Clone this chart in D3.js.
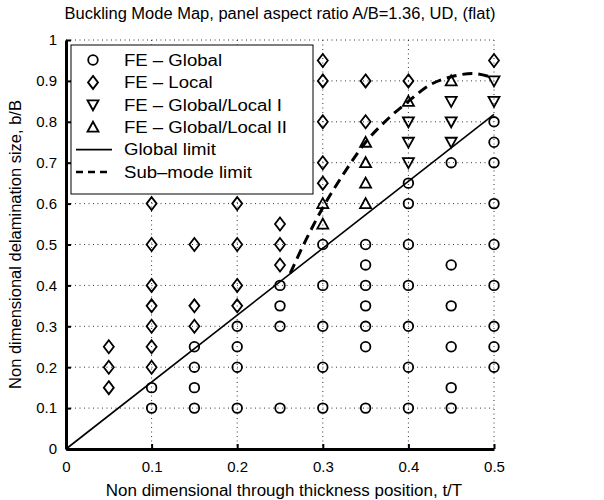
<!DOCTYPE html>
<html>
<head>
<meta charset="utf-8">
<script src="https://cdn.jsdelivr.net/npm/d3@7"></script>
<style>
  body { margin: 0; background: #fff; }
  text { font-family: "Liberation Sans", Arial, Helvetica, sans-serif; fill: #000; }
</style>
</head>
<body>
<svg id="chart" width="604" height="500"></svg>
<script>
// FE results per buckling mode, as [t/T, b/B] pairs
const feGlobal = [
  [0.10, 0.10], [0.10, 0.15],
  [0.15, 0.10], [0.15, 0.15], [0.15, 0.20], [0.15, 0.25],
  [0.20, 0.10], [0.20, 0.20], [0.20, 0.25], [0.20, 0.30],
  [0.25, 0.10], [0.25, 0.30], [0.25, 0.35], [0.25, 0.40],
  [0.30, 0.10], [0.30, 0.20], [0.30, 0.30], [0.30, 0.40], [0.30, 0.50],
  [0.35, 0.10], [0.35, 0.25], [0.35, 0.30], [0.35, 0.35], [0.35, 0.40], [0.35, 0.45], [0.35, 0.50],
  [0.40, 0.10], [0.40, 0.20], [0.40, 0.30], [0.40, 0.40], [0.40, 0.50], [0.40, 0.60], [0.40, 0.65],
  [0.45, 0.10], [0.45, 0.15], [0.45, 0.25], [0.45, 0.35], [0.45, 0.45], [0.45, 0.70],
  [0.50, 0.20], [0.50, 0.25], [0.50, 0.30], [0.50, 0.40], [0.50, 0.50], [0.50, 0.60], [0.50, 0.70], [0.50, 0.75], [0.50, 0.80]
];
const feLocal = [
  [0.05, 0.15], [0.05, 0.20], [0.05, 0.25],
  [0.10, 0.20], [0.10, 0.25], [0.10, 0.30], [0.10, 0.35], [0.10, 0.40], [0.10, 0.50], [0.10, 0.60],
  [0.15, 0.30], [0.15, 0.35], [0.15, 0.50],
  [0.20, 0.35], [0.20, 0.40], [0.20, 0.50], [0.20, 0.60],
  [0.25, 0.45], [0.25, 0.50], [0.25, 0.55],
  [0.30, 0.65], [0.30, 0.70], [0.30, 0.80], [0.30, 0.90], [0.30, 0.95],
  [0.35, 0.80], [0.35, 0.90],
  [0.40, 0.90],
  [0.50, 0.95]
];
const feGlobalLocalI = [
  [0.40, 0.70], [0.40, 0.75], [0.40, 0.80],
  [0.45, 0.75], [0.45, 0.80], [0.45, 0.85],
  [0.50, 0.85], [0.50, 0.90]
];
const feGlobalLocalII = [
  [0.30, 0.55], [0.30, 0.60],
  [0.35, 0.60], [0.35, 0.65], [0.35, 0.70], [0.35, 0.75],
  [0.40, 0.85],
  [0.45, 0.90]
];
// Limit curves
const globalLimit = [[0, 0], [0.5, 0.818]];
const subModeLimit = [
  [0.262, 0.43], [0.28, 0.51], [0.30, 0.59], [0.325, 0.675], [0.35, 0.75],
  [0.375, 0.805], [0.40, 0.85], [0.425, 0.89], [0.45, 0.91], [0.475, 0.918], [0.50, 0.907]
];
// Axis ticks and labels
const xTicks = [0, 0.1, 0.2, 0.3, 0.4, 0.5];
const yTicks = [0, 0.1, 0.2, 0.3, 0.4, 0.5, 0.6, 0.7, 0.8, 0.9, 1];
const legendLabels = ["FE \u2013 Global", "FE \u2013 Local", "FE \u2013 Global/Local I",
                      "FE \u2013 Global/Local II", "Global limit", "Sub\u2013mode limit"];
const titleText = "Buckling Mode Map, panel aspect ratio A/B=1.36, UD, (flat)";
const xLabel = "Non dimensional through thickness position, t/T";
const yLabel = "Non dimensional delamination size, b/B";

const svg = d3.select("#chart");
const L = 66, R = 494, T = 40, B = 449;
const x = d3.scaleLinear().domain([0, 0.5]).range([L, R]);
const y = d3.scaleLinear().domain([0, 1]).range([B, T]);

// Marker shapes (centered at 0,0)
const shapes = {
  circle: "M4.8,0A4.8,4.8 0 1,1 -4.8,0A4.8,4.8 0 1,1 4.8,0Z",
  diamond: "M0,-6.5L5,0L0,6.5L-5,0Z",
  triDown: "M-5.5,-4.5L5.5,-4.5L0,5.5Z",
  triUp: "M-5.5,4.5L5.5,4.5L0,-5.5Z"
};

// Dotted grid
const grid = svg.append("g");
grid.selectAll("line.h").data(yTicks.filter(d => d > 0)).join("line")
  .attr("x1", L).attr("x2", R)
  .attr("y1", d => y(d)).attr("y2", d => y(d))
  .attr("stroke", "#000").attr("stroke-width", 0.8).attr("stroke-dasharray", "1,3.5");
grid.selectAll("line.v").data(xTicks.filter(d => d > 0)).join("line")
  .attr("x1", d => x(d)).attr("x2", d => x(d))
  .attr("y1", T).attr("y2", B)
  .attr("stroke", "#000").attr("stroke-width", 0.8).attr("stroke-dasharray", "1,3.5");

// Axes (ticks drawn inward)
const xAxis = svg.append("g").attr("transform", `translate(0,${B})`)
  .call(d3.axisBottom(x).tickValues(xTicks).tickFormat(d3.format("")).tickSizeInner(-5).tickSizeOuter(0).tickPadding(12));
const yAxis = svg.append("g").attr("transform", `translate(${L},0)`)
  .call(d3.axisLeft(y).tickValues(yTicks).tickFormat(d3.format("")).tickSizeInner(-5).tickSizeOuter(0).tickPadding(9));
[xAxis, yAxis].forEach(a => {
  a.select(".domain").attr("stroke", "#000").attr("stroke-width", 3);
  a.selectAll(".tick line").attr("stroke", "#000").attr("stroke-width", 2);
  a.selectAll(".tick text").style("font-size", "15px").style("font-family", "'Liberation Sans', Arial, sans-serif");
});

// Limit lines
const line = d3.line().x(d => x(d[0])).y(d => y(d[1]));
svg.append("path").datum(globalLimit).attr("d", line)
  .attr("fill", "none").attr("stroke", "#000").attr("stroke-width", 1.6);
svg.append("path").datum(subModeLimit).attr("d", line.curve(d3.curveMonotoneX))
  .attr("fill", "none").attr("stroke", "#000").attr("stroke-width", 3).attr("stroke-dasharray", "10,6");

// FE markers
function drawMarkers(data, shape) {
  svg.append("g").selectAll("path").data(data).join("path")
    .attr("transform", d => `translate(${x(d[0])},${y(d[1])})`)
    .attr("d", shapes[shape])
    .attr("fill", "none").attr("stroke", "#000").attr("stroke-width", 1.8);
}
drawMarkers(feGlobal, "circle");
drawMarkers(feLocal, "diamond");
drawMarkers(feGlobalLocalI, "triDown");
drawMarkers(feGlobalLocalII, "triUp");

// Legend
const lg = svg.append("g");
lg.append("rect").attr("x", 71).attr("y", 45).attr("width", 242).attr("height", 149)
  .attr("fill", "#fff").attr("stroke", "#000").attr("stroke-width", 1);
const rowY = i => 60 + i * 22.4;
const legendShapes = ["circle", "diamond", "triDown", "triUp"];
legendShapes.forEach((s, i) => {
  lg.append("path").attr("transform", `translate(93,${rowY(i)})`).attr("d", shapes[s])
    .attr("fill", "none").attr("stroke", "#000").attr("stroke-width", 1.8);
});
lg.append("line").attr("x1", 76).attr("x2", 112).attr("y1", rowY(4)).attr("y2", rowY(4))
  .attr("stroke", "#000").attr("stroke-width", 1.6);
lg.append("line").attr("x1", 76).attr("x2", 112).attr("y1", rowY(5)).attr("y2", rowY(5))
  .attr("stroke", "#000").attr("stroke-width", 2.5).attr("stroke-dasharray", "7,5");

// Text widened slightly with textLength
function wideText(sel, k) {
  const w = sel.node().getComputedTextLength();
  sel.attr("textLength", w * k).attr("lengthAdjust", "spacingAndGlyphs");
  return sel;
}
legendLabels.forEach((t, i) => {
  wideText(lg.append("text").attr("x", 124).attr("y", rowY(i)).attr("dy", "0.36em")
    .style("font-size", "16px").text(t), 1.16);
});

// Title and axis labels
wideText(svg.append("text").attr("x", (L + R) / 2).attr("y", 19).attr("text-anchor", "middle")
  .style("font-size", "16px").text(titleText), 1.03);
wideText(svg.append("text").attr("x", (L + R) / 2 + 4).attr("y", 496).attr("text-anchor", "middle")
  .style("font-size", "16px").text(xLabel), 1.06);
svg.append("text").attr("transform", `translate(21,${(T + B) / 2}) rotate(-90)`)
  .attr("text-anchor", "middle").style("font-size", "16.5px").text(yLabel);
</script>
</body>
</html>
